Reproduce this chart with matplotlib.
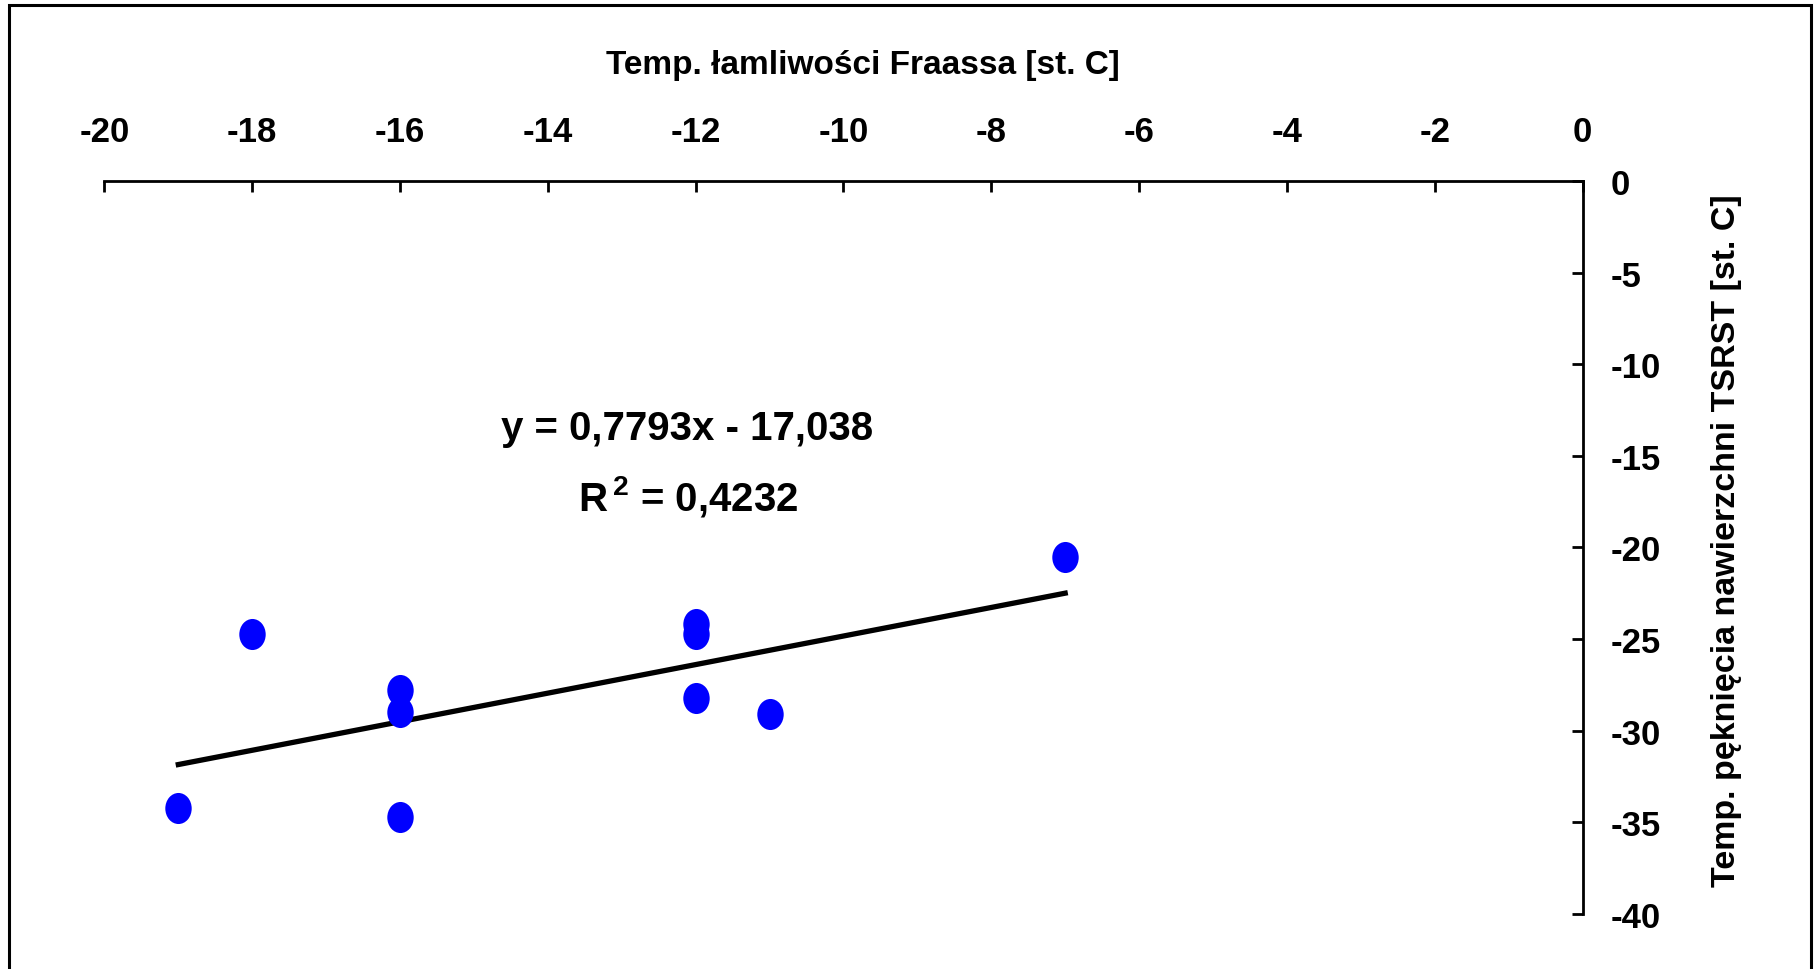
import numpy as np
import matplotlib.pyplot as plt
from matplotlib.patches import Rectangle
from matplotlib.path import Path

# data
fraass = [-19, -18, -16, -16, -16, -12, -12, -12, -11, -7]
tsrst = [-34.2, -24.7, -27.8, -29.0, -34.7, -24.2, -24.7, -28.2, -29.1, -20.5]
slope = 0.7793
intercept = -17.038
r2 = 0.4232
xticks = [-20, -18, -16, -14, -12, -10, -8, -6, -4, -2, 0]
yticks = [0, -5, -10, -15, -20, -25, -30, -35, -40]

plt.rcParams['font.family'] = ['Liberation Sans', 'DejaVu Sans']
plt.rcParams['font.weight'] = 'bold'
plt.rcParams['mathtext.fontset'] = 'custom'
plt.rcParams['mathtext.rm'] = 'Liberation Sans:bold'

fig = plt.figure(figsize=(18.19, 9.70), dpi=100)
ax = fig.add_axes([0.0574, 0.0567, 0.8126, 0.7557])

# slightly tall ellipse like the original markers
circ = Path.unit_circle()
oval = Path(circ.vertices * [0.85, 1.0], circ.codes)
ax.scatter(fraass, tsrst, s=500, marker=oval, color='#0000ff', lw=0, zorder=3)
xl = np.array([min(fraass), max(fraass)])
ax.plot(xl, slope * xl + intercept, color='black', lw=3.8, zorder=2)

ax.set_xlim(-20, 0)
ax.set_ylim(-40, 0)
ax.set_xticks(xticks)
ax.set_yticks(yticks)
ax.set_xticklabels([str(t) for t in xticks])
ax.set_yticklabels([str(t) for t in yticks])

ax.spines['left'].set_visible(False)
ax.spines['bottom'].set_visible(False)
ax.spines['top'].set_linewidth(2)
ax.spines['right'].set_linewidth(2)
ax.xaxis.tick_top()
ax.yaxis.tick_right()
ax.tick_params(axis='x', direction='in', length=8, width=2, pad=24, labelsize=25)
ax.tick_params(axis='y', direction='in', length=8, width=2, pad=20, labelsize=25)

fig.text(0.4745, 0.932, 'Temp. łamliwości Fraassa [st. C]', ha='center', va='center',
         fontsize=24, fontweight='bold')
fig.text(0.949, 0.443, 'Temp. pęknięcia nawierzchni TSRST [st. C]', ha='center', va='center',
         rotation=90, fontsize=24.5, fontweight='bold')

eq = 'y = 0,7793x - 17,038'
ax.text(-12.12, -13.48, eq, ha='center', va='center', fontsize=29, fontweight='bold')
ax.text(-12.1, -17.15, 'R$^{\\,\\mathrm{2}}$ = ' + f'{r2:.4f}'.replace('.', ','),
        ha='center', va='center', fontsize=29, fontweight='bold')

fig.patches.append(Rectangle((9 / 1819, -0.05), 1802 / 1819, 1.05 - 6 / 970,
                             transform=fig.transFigure, fill=False, ec='black', lw=2.2))

fig.savefig('out.png', dpi=100)
